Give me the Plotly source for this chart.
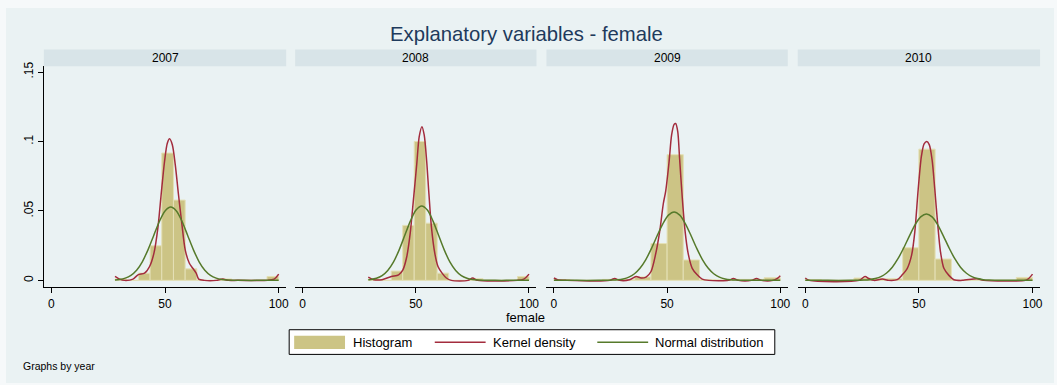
import plotly.graph_objects as go

# ---------------- data ----------------
years = ["2007", "2008", "2009", "2010"]

# histogram bin edges and densities per year
hist_edges_2007 = [28, 33.14, 38.29, 43.43, 48.57, 53.71, 58.86, 64.0, 69.14, 74.29, 79.43, 84.57, 89.71, 94.86, 100]
hist_dens_2007 = [0.001, 0, 0.0052, 0.0249, 0.0917, 0.0578, 0.0083, 0, 0, 0.001, 0, 0, 0, 0.0028]

hist_edges_2008 = [29, 34.07, 39.14, 44.21, 49.29, 54.36, 59.43, 64.5, 69.57, 74.64, 79.71, 84.79, 89.86, 94.93, 100]
hist_dens_2008 = [0.001, 0, 0.0067, 0.0396, 0.1, 0.0412, 0.0052, 0, 0, 0.0012, 0, 0, 0, 0.0028]

hist_edges_2009 = [0, 7.14, 14.29, 21.43, 28.57, 35.71, 42.86, 50, 57.14, 64.29, 71.43, 78.57, 85.71, 92.86, 100]
hist_dens_2009 = [0.0005, 0, 0, 0.0007, 0.0005, 0.0025, 0.0265, 0.0905, 0.0147, 0.0005, 0.0003, 0.0007, 0.0007, 0.0019]

hist_edges_2010 = [0, 7.14, 14.29, 21.43, 28.57, 35.71, 42.86, 50, 57.14, 64.29, 71.43, 78.57, 85.71, 92.86, 100]
hist_dens_2010 = [0.0005, 0, 0, 0.0017, 0.0012, 0.0012, 0.0235, 0.0945, 0.0154, 0, 0.0005, 0, 0, 0.0021]

# kernel density curves
kde_x_2007 = [28, 30.0, 32.2, 35.9, 38.1, 41.0, 43.2, 45.1, 46.9, 48.3, 49.8, 51.0, 52.0, 53.2, 54.5, 55.9, 57.4,
              58.9, 60.7, 62.2, 63.7, 64.8, 67.3, 72.5, 75.4, 77.8, 82.0, 95.1, 98.0, 100]
kde_y_2007 = [0.0028, 0.0009, 0.0, 0.0009, 0.004, 0.0052, 0.010, 0.0194, 0.0384, 0.062, 0.0858, 0.0988, 0.1019,
              0.0976, 0.0834, 0.062, 0.0407, 0.0218, 0.0123, 0.0087, 0.0052, 0.0009, 0, 0, 0.0009, 0, 0, 0, 0.0009, 0.0045]

kde_x_2008 = [29.0, 31.4, 35.1, 39.2, 42.4, 44.3, 46.0, 47.5, 48.9, 50.4, 51.5, 52.7, 53.7, 54.8, 55.8, 56.9, 58.4,
              59.8, 61.6, 63.5, 65.7, 73.0, 75.1, 77.3, 94.8, 97.7, 100]
kde_y_2008 = [0.0024, 0.0005, 0.0005, 0.0028, 0.004, 0.0076, 0.017, 0.0336, 0.0573, 0.0834, 0.1035, 0.1107, 0.1047,
              0.0858, 0.062, 0.0384, 0.0194, 0.010, 0.0052, 0.0017, 0, 0, 0.0017, 0, 0, 0.0009, 0.0045]

kde_x_2009 = [0, 1.6, 5.7, 24.7, 26.8, 29.0, 33.4, 36.3, 38.5, 40.7, 42.9, 45.0, 46.8, 48.3, 49.4, 50.9, 52.0, 53.1,
              53.8, 54.7, 55.5, 56.7, 57.9, 59.3, 61.1, 63.3, 65.5, 68.4, 77.1, 79.3, 81.5, 87.3, 89.5, 91.7, 96.8, 98.7, 100]
kde_y_2009 = [0.0017, 0.0005, 0, 0, 0.0014, 0, 0.0004, 0.0028, 0.0017, 0.0024, 0.0064, 0.0194, 0.036, 0.055, 0.0645,
              0.0858, 0.1047, 0.1123, 0.113, 0.1071, 0.0881, 0.0597, 0.036, 0.0194, 0.0087, 0.004, 0.0009, 0, 0,
              0.0014, 0, 0, 0.0014, 0, 0, 0.0014, 0.0033]

kde_x_2010 = [0, 1.8, 23.7, 26.3, 28.1, 30.3, 33.9, 36.8, 40.5, 42.7, 44.9, 46.8, 48.2, 49.7, 51.1, 52.3, 53.5, 54.6,
              55.8, 57.0, 58.2, 59.5, 61.0, 63.2, 65.4, 69.0, 75.6, 78.5, 96.8, 98.2, 100]
kde_y_2010 = [0.0017, 0, 0, 0.0028, 0.0012, 0, 0.0009, 0, 0.0005, 0.004, 0.0087, 0.0182, 0.0348, 0.0656, 0.0893,
              0.0983, 0.1, 0.0976, 0.0869, 0.0656, 0.0419, 0.0206, 0.0087, 0.0036, 0.0005, 0, 0.0012, 0, 0, 0.0012, 0.0045]

# normal density curves
norm_x_2007 = [28, 30, 32.5, 35, 37.5, 40, 42.5, 45, 47.5, 50, 52.5, 55, 57.5, 60, 62.5, 65, 67.5, 70, 72.5, 75,
               77.5, 80, 85, 90, 100]
norm_y_2007 = [0.0003, 0.0006, 0.0016, 0.0036, 0.0073, 0.0134, 0.0220, 0.0322, 0.0424, 0.0500, 0.0528, 0.0500,
               0.0424, 0.0322, 0.0220, 0.0134, 0.0073, 0.0036, 0.0016, 0.0006, 0.0002, 0.0001, 0, 0, 0]

norm_x_2008 = [29, 30.1, 32.6, 35.1, 37.6, 40.1, 42.6, 45.1, 47.6, 50.1, 52.6, 55.1, 57.6, 60.1, 62.6, 65.1, 67.6,
               70.1, 72.6, 75.1, 77.6, 80.1, 85, 90, 100]
norm_y_2008 = [0.0004, 0.0006, 0.0015, 0.0034, 0.0071, 0.0131, 0.0218, 0.0323, 0.0427, 0.0506, 0.0535, 0.0506,
               0.0427, 0.0323, 0.0218, 0.0131, 0.0071, 0.0034, 0.0015, 0.0006, 0.0002, 0.0001, 0, 0, 0]

norm_x_2009 = [0, 10, 20, 23.1, 25.6, 28.1, 30.6, 33.1, 35.6, 38.1, 40.6, 43.1, 45.6, 48.1, 50.6, 53.1, 55.6, 58.1,
               60.6, 63.1, 65.6, 68.1, 70.6, 73.1, 75.6, 78.1, 80.6, 83.1, 90, 100]
norm_y_2009 = [0, 0, 0, 0.0001, 0.0002, 0.0004, 0.0010, 0.0023, 0.0048, 0.0089, 0.0150, 0.0230, 0.0321, 0.0407,
               0.0470, 0.0493, 0.0470, 0.0407, 0.0321, 0.0230, 0.0150, 0.0089, 0.0048, 0.0023, 0.0010, 0.0004,
               0.0002, 0.0001, 0, 0]

norm_x_2010 = [0, 10, 20, 23.3, 25.8, 28.3, 30.8, 33.3, 35.8, 38.3, 40.8, 43.3, 45.8, 48.3, 50.8, 53.3, 55.8, 58.3,
               60.8, 63.3, 65.8, 68.3, 70.8, 73.3, 75.8, 78.3, 80.8, 83.3, 90, 100]
norm_y_2010 = [0, 0, 0, 0.0001, 0.0002, 0.0005, 0.0013, 0.0027, 0.0053, 0.0095, 0.0156, 0.0233, 0.0319, 0.0400,
               0.0457, 0.0478, 0.0457, 0.0400, 0.0319, 0.0233, 0.0156, 0.0095, 0.0053, 0.0027, 0.0013, 0.0005,
               0.0002, 0.0001, 0, 0]

x_ticks = [0, 50, 100]
y_ticks = [0, 0.05, 0.1, 0.15]
y_tick_text = ["0", ".05", ".1", ".15"]

# ---------------- styling ----------------
W, H = 1057, 385
FONT = "Liberation Sans, Arial, sans-serif"
BG = "#EAF2F3"
STRIP = "#D8E4E8"
BAR_FILL = "#CCC485"
BAR_LINE = "#E4E0B6"
KDE_COL = "#A32C3D"
NORM_COL = "#567A2B"


def px_x(p):
    return p / W


def px_y(p):
    return 1 - p / H


panel_px = [(44, 287), (296, 538), (548, 790), (800, 1043)]
plot_top, plot_bot = 62, 286
strip_top = 45

hist = [(hist_edges_2007, hist_dens_2007), (hist_edges_2008, hist_dens_2008),
        (hist_edges_2009, hist_dens_2009), (hist_edges_2010, hist_dens_2010)]
kdes = [(kde_x_2007, kde_y_2007), (kde_x_2008, kde_y_2008), (kde_x_2009, kde_y_2009), (kde_x_2010, kde_y_2010)]
norms = [(norm_x_2007, norm_y_2007), (norm_x_2008, norm_y_2008), (norm_x_2009, norm_y_2009),
         (norm_x_2010, norm_y_2010)]

fig = go.Figure()
layout = dict(
    width=W, height=H, autosize=False,
    margin=dict(l=0, r=0, t=0, b=0),
    paper_bgcolor="#F6F9FA", plot_bgcolor="white",
    font=dict(family=FONT, color="black", size=12),
    showlegend=False,
    shapes=[], annotations=[],
)

# graph region panel
layout["shapes"].append(dict(type="rect", xref="paper", yref="paper", layer="below",
                             x0=px_x(6), x1=1, y0=px_y(383), y1=px_y(3),
                             fillcolor=BG, line=dict(width=0)))

for i, yr in enumerate(years):
    n = "" if i == 0 else str(i + 1)
    xa, ya = "x" + n, "y" + n
    edges, dens = hist[i]
    centers = [(a + b) / 2 for a, b in zip(edges[:-1], edges[1:])]
    widths = [b - a for a, b in zip(edges[:-1], edges[1:])]
    fig.add_trace(go.Bar(x=centers, y=dens, width=widths, marker=dict(color=BAR_FILL, line=dict(color=BAR_LINE, width=1)),
                         xaxis=xa, yaxis=ya, hoverinfo="skip"))
    kx, ky = kdes[i]
    fig.add_trace(go.Scatter(x=kx, y=ky, mode="lines", line=dict(color=KDE_COL, width=1.5, shape="spline", smoothing=0.8),
                             xaxis=xa, yaxis=ya, hoverinfo="skip"))
    nx, ny = norms[i]
    fig.add_trace(go.Scatter(x=nx, y=ny, mode="lines", line=dict(color=NORM_COL, width=1.5, shape="spline", smoothing=0.8),
                             xaxis=xa, yaxis=ya, hoverinfo="skip"))

    x0p, x1p = panel_px[i]
    layout["xaxis" + n] = dict(
        domain=[px_x(x0p), px_x(x1p)], range=[-3.3, 103.3], anchor=ya,
        tickvals=x_ticks, ticks="outside", ticklen=5, tickcolor="black", tickwidth=1,
        showline=True, linecolor="black", linewidth=1, showgrid=False, zeroline=False,
        tickfont=dict(size=12, family=FONT, color="black"), fixedrange=True,
    )
    layout["yaxis" + n] = dict(
        domain=[px_y(plot_bot), px_y(plot_top)], range=[-0.004975, 0.15423], anchor=xa,
        tickvals=y_ticks, ticktext=y_tick_text, tickangle=-90,
        showgrid=True, gridcolor=BG, gridwidth=1.3, zeroline=False,
        showline=(i == 0), linecolor="black", linewidth=1,
        ticks="outside" if i == 0 else "", ticklen=5, tickcolor="black",
        showticklabels=(i == 0), tickfont=dict(size=12, family=FONT, color="black"), fixedrange=True,
    )
    # year strip
    layout["shapes"].append(dict(type="rect", xref="paper", yref="paper",
                                 x0=px_x(x0p), x1=px_x(x1p), y0=px_y(plot_top), y1=px_y(strip_top),
                                 fillcolor=STRIP, line=dict(width=0)))
    layout["annotations"].append(dict(xref="paper", yref="paper", x=px_x((x0p + x1p) / 2), y=px_y(53.5),
                                      text=yr, showarrow=False, font=dict(size=12, family=FONT, color="black"),
                                      xanchor="center", yanchor="middle"))

# title, axis title, note
layout["annotations"].append(dict(xref="paper", yref="paper", x=px_x(528), y=px_y(29),
                                  text="Explanatory variables - female", showarrow=False,
                                  font=dict(size=20.3, family=FONT, color="#1E3A5C"),
                                  xanchor="center", yanchor="middle"))
layout["annotations"].append(dict(xref="paper", yref="paper", x=px_x(527), y=px_y(317), text="female",
                                  showarrow=False, font=dict(size=13, family=FONT, color="black"),
                                  xanchor="center", yanchor="middle"))
layout["annotations"].append(dict(xref="paper", yref="paper", x=px_x(21), y=px_y(366), text="Graphs by year",
                                  showarrow=False, font=dict(size=10.5, family=FONT, color="black"),
                                  xanchor="left", yanchor="middle"))

# legend
leg_y = 341.7
layout["shapes"].append(dict(type="rect", xref="paper", yref="paper", x0=px_x(290), x1=px_x(777),
                             y0=px_y(354), y1=px_y(329), fillcolor="white", line=dict(color="black", width=1)))
layout["shapes"].append(dict(type="rect", xref="paper", yref="paper", x0=px_x(295), x1=px_x(346),
                             y0=px_y(348.5), y1=px_y(335), fillcolor=BAR_FILL, line=dict(width=0)))
layout["shapes"].append(dict(type="line", xref="paper", yref="paper", x0=px_x(436), x1=px_x(487),
                             y0=px_y(leg_y), y1=px_y(leg_y), line=dict(color=KDE_COL, width=1.5)))
layout["shapes"].append(dict(type="line", xref="paper", yref="paper", x0=px_x(599), x1=px_x(650),
                             y0=px_y(leg_y), y1=px_y(leg_y), line=dict(color=NORM_COL, width=1.5)))
for label, lx in [("Histogram", 352), ("Kernel density", 492), ("Normal distribution", 655)]:
    layout["annotations"].append(dict(xref="paper", yref="paper", x=px_x(lx), y=px_y(leg_y), text=label,
                                      showarrow=False, font=dict(size=13, family=FONT, color="black"),
                                      xanchor="left", yanchor="middle"))

fig.update_layout(**layout)
fig.write_html("out.html")
